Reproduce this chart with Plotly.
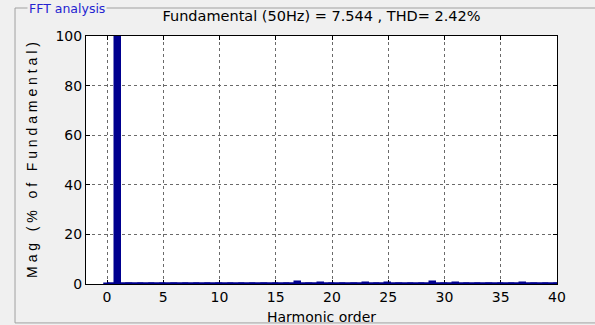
import plotly.graph_objects as go

harmonics = list(range(0, 41))
mag = [0.15, 100, 0.05, 0.1, 0.05, 0.2, 0.05, 0.2, 0.05, 0.1, 0.05,
       0.15, 0.05, 0.2, 0.05, 0.1, 0.1, 1.0, 0.1, 0.3, 0.05, 0.1, 0.05,
       0.3, 0.05, 0.5, 0.05, 0.1, 0.1, 0.9, 0.1, 0.4, 0.05, 0.1, 0.05,
       0.2, 0.05, 0.5, 0.05, 0.1, 0.05]
x_ticks = [0, 5, 10, 15, 20, 25, 30, 35, 40]
y_ticks = [0, 20, 40, 60, 80, 100]
title_text = "Fundamental (50Hz) = 7.544 , THD= 2.42%"
ytitle = "M a g   ( %   o f   F u n d a m e n t a l )"
xtitle = "Harmonic order"
panel_label = "FFT analysis"

bar_color = "#00008f"
font = "DejaVu Sans, Arial, sans-serif"
font2 = "Liberation Sans, Arial, sans-serif"

fig = go.Figure()
fig.add_trace(go.Bar(x=harmonics, y=mag, width=0.55,
                     marker=dict(color=bar_color, line=dict(color=bar_color, width=1.5))))

# baseline along the bars
fig.add_shape(type="line", xref="x", yref="y", x0=harmonics[0], x1=harmonics[-1],
              y0=0, y1=0, line=dict(color=bar_color, width=3.5), layer="above")

# etched panel frame
fig.add_shape(type="rect", xref="paper", yref="paper", x0=-0.1507, x1=1.2,
              y0=-0.157, y1=1.1129, line=dict(color="#a0a0a0", width=1), layer="below")
fig.add_annotation(text=panel_label, xref="paper", yref="paper", x=-0.125, y=1.1129,
                   xanchor="left", yanchor="middle", showarrow=False,
                   font=dict(family=font, size=12.5, color="#2424d0"),
                   bgcolor="#f0f0f0", borderpad=1)

axis_common = dict(showline=True, linecolor="black", linewidth=1, mirror="allticks",
                   ticks="inside", ticklen=4, tickcolor="black", showgrid=True,
                   gridcolor="#6a6a6a", griddash="dot", gridwidth=1, zeroline=False,
                   automargin=False,
                   tickfont=dict(family=font, size=14, color="black"))

fig.update_xaxes(range=[-1.87, 40], tickvals=x_ticks, **axis_common,
                 title=dict(text=xtitle, font=dict(family=font, size=14, color="black"), standoff=8))
fig.update_yaxes(range=[0, 100], tickvals=y_ticks, **axis_common,
                 title=dict(text=ytitle, font=dict(family=font2, size=14, color="black"), standoff=14))

fig.update_layout(
    width=595, height=325,
    margin=dict(l=86, r=38, t=36, b=41),
    paper_bgcolor="#f0f0f0", plot_bgcolor="white",
    showlegend=False, bargap=0,
    title=dict(text=title_text, x=0.5, xref="paper", y=1.0, yref="container",
               yanchor="top", pad=dict(t=11),
               font=dict(family=font, size=14.5, color="black")),
)

fig.write_html("out.html")
